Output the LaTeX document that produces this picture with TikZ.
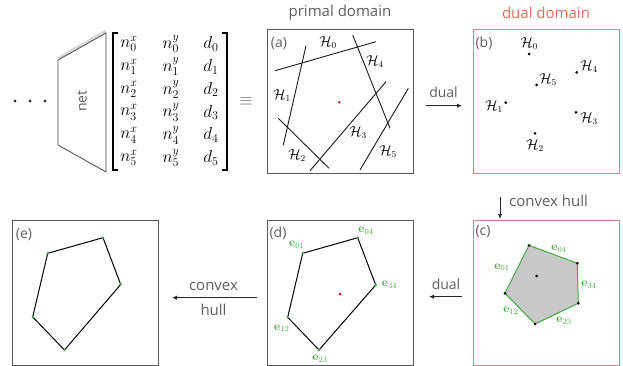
\documentclass[tikz,border=0pt]{standalone}
\usepackage{amsmath}
\usepackage[no-math]{fontspec}
\newfontfamily\labfont{Open Sans}
\usetikzlibrary{arrows.meta}
\definecolor{boxgray}{HTML}{585858}
\definecolor{redbox}{HTML}{C98888}
\definecolor{redlab}{HTML}{E0705A}
\definecolor{egreen}{HTML}{45A845}
\definecolor{txtgray}{HTML}{5E5E5E}
\definecolor{hullfill}{HTML}{C8C8C8}
\tikzset{
  panel/.style={draw=boxgray, line width=1pt, minimum width=146pt, minimum height=144pt, inner sep=0pt},
  redpanel/.style={panel, draw=redbox},
  lab/.style={font=\labfont\fontsize{14}{16}\selectfont, text=txtgray, inner sep=1pt},
  plab/.style={font=\labfont\fontsize{14}{16}\selectfont, text=txtgray, inner sep=0pt},
  arr/.style={-{Latex[length=5pt,width=4.5pt]}, line width=1pt, draw=black!85},
  hl/.style={line width=0.9pt, draw=black!90},
  mlab/.style={font=\fontsize{13.5}{16}\selectfont, inner sep=0pt},
  elab/.style={text=egreen, font=\fontsize{12}{14}\selectfont, inner sep=0pt},
  bdot/.style={circle, fill=black, inner sep=0pt, minimum size=3pt},
  gdot/.style={circle, fill=egreen, inner sep=0pt, minimum size=3pt},
  rdot/.style={circle, fill=red!80!black, inner sep=0pt, minimum size=2.6pt},
  ment/.style={font=\fontsize{18}{20}\selectfont, inner sep=0pt},
}
\begin{document}
\begin{tikzpicture}[x=1pt,y=-1pt]
\useasboundingbox (0,0) rectangle (623,366);

% ---------- network + matrix ----------
\foreach \i/\xx in {1/15,2/30,3/45} \node[circle, fill=black!80, inner sep=0pt, minimum size=3.2pt] (dd\i) at (\xx,101) {};
\draw[line width=3pt, black!15] (59,58) -- (106,31);
\draw[line width=0.8pt, black!70, fill=white] (58,60) -- (106,33) -- (106,172) -- (58,145) -- cycle;
\node[lab, rotate=90] (net) at (82,101) {net};

\draw[line width=1.1pt] (118,33) -- (113,33) -- (113,170) -- (118,170);
\draw[line width=1.1pt] (222,33) -- (227,33) -- (227,170) -- (222,170);
\foreach \r in {0,...,5}{
  \pgfmathsetmacro{\yy}{44+22.8*\r}
  \node[ment] (nx\r) at (129,\yy) {$n_{\r}^{x}$};
  \node[ment] (ny\r) at (171,\yy) {$n_{\r}^{y}$};
  \node[ment] (d\r) at (211,\yy) {$d_{\r}$};
}
\node[ment, text=black!60] (eq) at (246,101) {$\equiv$};

% ---------- titles ----------
\node[lab, font=\labfont\fontsize{15}{17}\selectfont] (tprimal) at (340,13) {primal domain};
\node[lab, text=redlab, font=\labfont\fontsize{15}{17}\selectfont] (tdual) at (546,13) {dual domain};

% ---------- panels ----------
\node[panel] (pa) at (340,102) {};
\node[redpanel] (pb) at (546,102) {};
\node[redpanel, minimum height=145pt] (pc) at (546,292.5) {};
\node[panel, minimum height=145pt] (pd) at (340.5,293) {};
\node[panel, minimum height=145pt] (pe) at (85,293) {};

\node[plab] (la) at (279,44) {(a)};
\node[plab] (lb) at (484,43) {(b)};
\node[plab] (lc) at (483,232) {(c)};
\node[plab] (ld) at (278,233) {(d)};
\node[plab] (le) at (24,235) {(e)};

% ---------- (a) half-planes ----------
\draw[hl] (275,70.7) -- (376,41.7);
\draw[hl] (306,45.7) -- (283.3,145);
\draw[hl] (278.3,118.3) -- (329,168.3);
\draw[hl] (310,170.7) -- (386,81.7);
\draw[hl] (352.7,35) -- (390,128.3);
\draw[hl] (360,170) -- (408.3,88.3);
\node[mlab] (ha0) at (328,43) {$\mathcal{H}_0$};
\node[mlab] (ha4) at (375,62) {$\mathcal{H}_4$};
\node[mlab] (ha1) at (282,96) {$\mathcal{H}_1$};
\node[mlab] (ha3) at (358,133) {$\mathcal{H}_3$};
\node[mlab] (ha2) at (297,156) {$\mathcal{H}_2$};
\node[mlab] (ha5) at (388,152) {$\mathcal{H}_5$};
\node[rdot] (ca) at (339.3,102.3) {};

% ---------- (b) dual points ----------
\node[bdot] (b0) at (529,54) {};
\node[bdot] (b5) at (536.7,85) {};
\node[bdot] (b4) at (576.7,72.3) {};
\node[bdot] (b1) at (505.7,102.7) {};
\node[bdot] (b3) at (576,112.3) {};
\node[bdot] (b2) at (535,133.3) {};
\node[mlab] (hb0) at (529.3,43.3) {$\mathcal{H}_0$};
\node[mlab] (hb5) at (548,80) {$\mathcal{H}_5$};
\node[mlab] (hb4) at (589,66.7) {$\mathcal{H}_4$};
\node[mlab] (hb1) at (494,107) {$\mathcal{H}_1$};
\node[mlab] (hb3) at (589,118.3) {$\mathcal{H}_3$};
\node[mlab] (hb2) at (535,145.7) {$\mathcal{H}_2$};

% ---------- (c) convex hull ----------
\coordinate (c0) at (529,245.3);
\coordinate (c4) at (577.3,263.3);
\coordinate (c3) at (578.3,303.3);
\coordinate (c2) at (535,324);
\coordinate (c1) at (505,293.3);
\fill[hullfill] (c0) -- (c4) -- (c3) -- (c2) -- (c1) -- cycle;
\draw[egreen, line width=1pt] (c0) -- (c4) -- (c3) -- (c2) -- (c1) -- cycle;
\foreach \p in {c0,c1,c2,c3,c4} \node[bdot] at (\p) {};
\node[bdot] (cc) at (536.7,276) {};
\node[elab] (ce01) at (502,267.3) {$\mathbf{e}_{01}$};
\node[elab] (ce04) at (559,249) {$\mathbf{e}_{04}$};
\node[elab] (ce34) at (589,285) {$\mathbf{e}_{34}$};
\node[elab] (ce23) at (564,320.7) {$\mathbf{e}_{23}$};
\node[elab] (ce12) at (511,310.7) {$\mathbf{e}_{12}$};

% ---------- (d) primal polygon ----------
\coordinate (d01) at (302.7,253.3);
\coordinate (d04) at (357.7,237.7);
\coordinate (d34) at (375.7,285);
\coordinate (d23) at (319,350);
\coordinate (d12) at (287.7,317.3);
\draw[line width=1pt] (d01) -- (d04) -- (d34) -- (d23) -- (d12) -- cycle;
\foreach \p in {d01,d04,d34,d23,d12} \node[gdot, minimum size=2.6pt] at (\p) {};
\node[rdot] (cd) at (340,294) {};
\node[elab] (de01) at (296.7,245) {$\mathbf{e}_{01}$};
\node[elab] (de04) at (366,231) {$\mathbf{e}_{04}$};
\node[elab] (de34) at (389.5,285) {$\mathbf{e}_{34}$};
\node[elab] (de23) at (320,358.5) {$\mathbf{e}_{23}$};
\node[elab] (de12) at (281.7,328.3) {$\mathbf{e}_{12}$};

% ---------- (e) final polygon ----------
\coordinate (e1) at (47.7,253.3);
\coordinate (e2) at (103,237.7);
\coordinate (e3) at (120.7,284.5);
\coordinate (e4) at (64.5,350);
\coordinate (e5) at (32.7,317);
\draw[line width=1pt] (e1) -- (e2) -- (e3) -- (e4) -- (e5) -- cycle;
\foreach \p in {e1,e2,e3,e4,e5} \node[gdot, minimum size=2.6pt] at (\p) {};

% ---------- arrows ----------
\coordinate (ab1) at (426,105.7);
\coordinate (ab2) at (462,105.7);
\draw[arr] (ab1) -- (ab2);
\node[lab] (tdual1) at (443.5,92.5) {dual};

\coordinate (bc1) at (500,197);
\coordinate (bc2) at (500,219);
\draw[arr] (bc1) -- (bc2);
\node[lab, anchor=west, font=\labfont\fontsize{15}{17}\selectfont] (tch1) at (508,201) {convex hull};

\coordinate (cd1) at (462,296.7);
\coordinate (cd2) at (429,296.7);
\draw[arr] (cd1) -- (cd2);
\node[lab] (tdual2) at (446,284) {dual};

\coordinate (de1) at (257,297.7);
\coordinate (de2) at (172,297.7);
\draw[arr] (de1) -- (de2);
\node[lab, font=\labfont\fontsize{15}{17}\selectfont] (tch2a) at (213.5,286) {convex};
\node[lab, font=\labfont\fontsize{15}{17}\selectfont] (tch2b) at (213.5,310) {hull};
\end{tikzpicture}
\end{document}
